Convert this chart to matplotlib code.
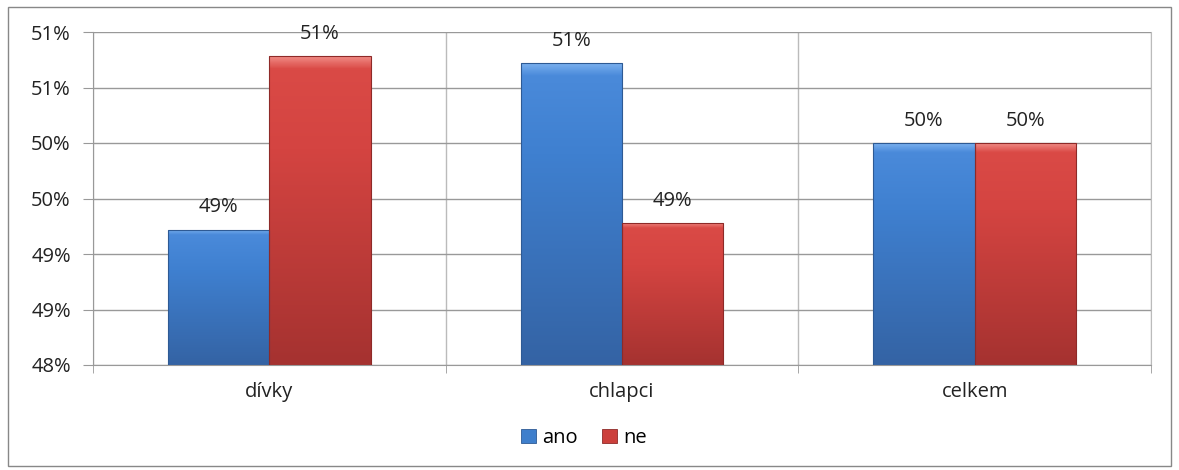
import numpy as np
import matplotlib
matplotlib.use("Agg")
from matplotlib import pyplot as plt
from matplotlib.patches import Rectangle
from matplotlib.ticker import FuncFormatter, FixedLocator
from matplotlib.colors import LinearSegmentedColormap

categories = ["dívky", "chlapci", "celkem"]
ano = [0.4922, 0.5072, 0.5000]
ne = [0.5078, 0.4928, 0.5000]
series_names = ["ano", "ne"]
yticks = [0.48, 0.485, 0.49, 0.495, 0.50, 0.505, 0.51]

plt.rcParams["font.family"] = ["Open Sans", "DejaVu Sans"]
FS = 14.5


def pct(v, pos=None):
    # excel style rounding, half up
    return "%d%%" % int(np.floor(v * 100 + 0.5 + 1e-9))


blue_cmap = LinearSegmentedColormap.from_list(
    "b", [(0, "#7AB0EE"), (0.04, "#4A8ADA"), (0.3, "#3F80D0"), (1, "#3463A4")])
red_cmap = LinearSegmentedColormap.from_list(
    "r", [(0, "#F08A84"), (0.04, "#DA4A46"), (0.3, "#D44441"), (1, "#A53230")])

fig = plt.figure(figsize=(11.79, 4.70), dpi=100)
ax = fig.add_axes([93 / 1179, 1 - 365 / 470, (1151 - 93) / 1179, (365 - 32) / 470])

x = np.arange(len(categories))
w = 0.287
ymin, ymax = 0.48, 0.51

grad = np.linspace(0, 1, 256).reshape(-1, 1)

for vals, cmap, edge, off in [(ano, blue_cmap, "#2E5A94", -w / 2), (ne, red_cmap, "#8E2A28", w / 2)]:
    bars = ax.bar(x + off, np.array(vals) - ymin, w, bottom=ymin, color="none",
                  edgecolor=edge, linewidth=0.8, zorder=3)
    for b, v in zip(bars, vals):
        x0 = b.get_x()
        im = ax.imshow(grad, cmap=cmap, aspect="auto", zorder=2.5,
                       extent=[x0, x0 + w, ymin, v], origin="upper")
        im.set_clip_path(b)
        ax.text(x0 + w / 2, v + 0.0011, pct(v), ha="center", va="bottom",
                fontsize=FS, color="#222222", zorder=4)

ax.set_xlim(-0.5, 2.5)
ax.set_ylim(ymin, ymax)
ax.yaxis.set_major_locator(FixedLocator(yticks))
ax.yaxis.set_major_formatter(FuncFormatter(pct))
ax.set_xticks(x)
ax.set_xticklabels(categories)
ax.xaxis.set_minor_locator(FixedLocator([-0.5, 0.5, 1.5, 2.5]))
ax.tick_params(axis="x", which="major", length=0, pad=12, labelsize=FS, colors="#222222")
ax.tick_params(axis="x", which="minor", length=6, color="#999999")
ax.tick_params(axis="y", length=7, color="#999999", labelsize=FS, labelcolor="#222222", pad=9)
ax.grid(axis="y", color="#999999", linewidth=1, zorder=0)
ax.grid(axis="x", which="minor", color="#bbbbbb", linewidth=1, zorder=0)
ax.spines["top"].set_visible(False)
ax.spines["right"].set_color("#bbbbbb")
ax.spines["left"].set_color("#999999")
ax.spines["bottom"].set_color("#999999")
ax.set_axisbelow(True)

handles = [Rectangle((0, 0), 1, 1, facecolor="#3F7FCC", edgecolor="#2E5A94", linewidth=0.6),
           Rectangle((0, 0), 1, 1, facecolor="#CC403C", edgecolor="#8E2A28", linewidth=0.6)]
fig.legend(handles, series_names, loc="center", bbox_to_anchor=(584 / 1179, 1 - 438 / 470),
           ncol=2, frameon=False, fontsize=FS, handlelength=0.75, handleheight=0.75,
           handletextpad=0.3, columnspacing=1.2)

fig.patches.append(Rectangle((8 / 1179, 1 - 466 / 470), 1163 / 1179, 459 / 470,
                             transform=fig.transFigure, fill=False, edgecolor="#888888", linewidth=1))

plt.savefig("out.png", dpi=100)
